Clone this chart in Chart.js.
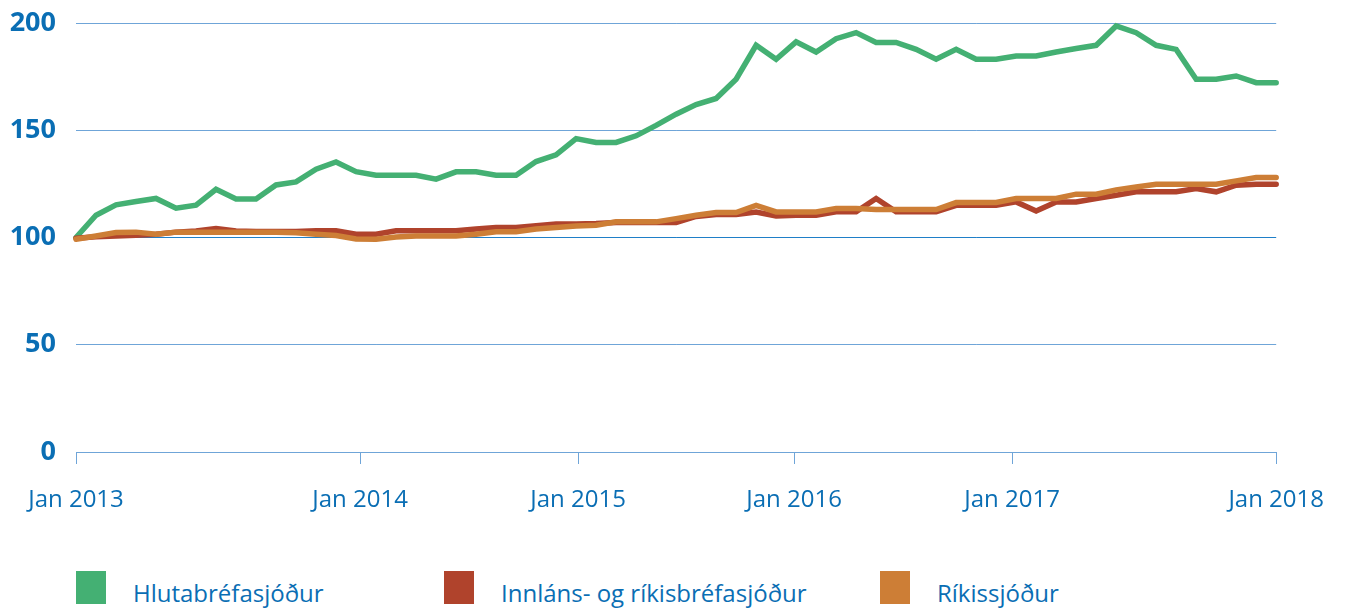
<!DOCTYPE html>
<html>
<head>
<meta charset="utf-8">
<script src="https://cdn.jsdelivr.net/npm/chart.js@4.4.1/dist/chart.umd.min.js"></script>
<style>
  html, body { margin: 0; padding: 0; background: #ffffff; }
  body { width: 1346px; height: 609px; position: relative; overflow: hidden; font-family: "Open Sans", "Noto Sans", sans-serif; }
  #wrap { position: absolute; left: 0; top: 0; width: 1346px; height: 540px; }
  #legend { position: absolute; left: 0; top: 571px; width: 1346px; height: 38px; }
  .item { position: absolute; top: 0; height: 34px; }
  .box { position: absolute; left: 0; top: 0; width: 30px; height: 33px; }
  .lbl { position: absolute; top: 5px; white-space: nowrap; font-size: 24px; line-height: 34px; color: #0a6eb4; }
</style>
</head>
<body>
<div id="wrap"><canvas id="c"></canvas></div>
<div id="legend"></div>
<script>
// ---- data (monthly index, Jan 2013 = 100) ----
const seriesNames = ['Hlutabréfasjóður', 'Innláns- og ríkisbréfasjóður', 'Ríkissjóður'];

const hlutabref = [100,110.4,115.2,116.8,118.2,113.7,115.1,122.5,118,118,124.5,125.9,131.8,135.2,130.7,129,129,129,127.2,130.6,130.6,129,129,135.4,138.5,146.1,144.3,144.3,147.4,152.3,157.5,162,164.8,173.8,189.6,183.1,191.2,186.5,192.7,195.5,190.9,190.9,187.7,183.1,187.7,183.1,183.1,184.6,184.6,186.5,188.1,189.6,198.6,195.5,189.6,187.7,173.8,173.8,175.3,172.2,172.2];

const innlans = [99.7,100.3,100.7,101,101.5,102.5,103,104.2,103,102.8,102.8,102.8,103.1,103.1,101.5,101.5,103.1,103.1,103.1,103.1,104,104.7,104.7,105.5,106.3,106.3,106.5,107,107,107,107,109.8,110.7,110.7,111.9,110,110.4,110.4,112,112,118.2,112,112,112,115,115,115,116.6,112.4,116.6,116.6,118.2,119.7,121.3,121.3,121.3,122.8,121.3,124.4,124.8,124.8];

const rikissjodur = [99.2,100.7,102.3,102.5,101.5,102.5,102.5,102.5,102.5,102.5,102.5,102.2,101.5,100.9,99.3,99.2,100.2,100.7,100.7,100.7,101.5,102.7,102.7,104,104.7,105.4,105.7,107.3,107.3,107.3,108.8,110.4,111.6,111.6,115,111.9,111.9,111.9,113.5,113.5,113,113,113,113,116.3,116.3,116.3,118.2,118.2,118.2,120.2,120.2,122.2,123.5,124.8,124.8,124.8,124.8,126.4,128,128];

// x tick labels and the month index (from Jan 2013) where each label sits
const tickLabels = ['Jan 2013', 'Jan 2014', 'Jan 2015', 'Jan 2016', 'Jan 2017', 'Jan 2018'];
const tickAt = [0, 14.2, 25.1, 35.9, 46.8, 60];

const yTicks = [0, 50, 100, 150, 200];

// ---- styling ----
const colors = ['#44b073', '#b0432c', '#cd7e36'];
const textBlue = '#0a6eb4';
const FONT = '"Open Sans", "Noto Sans", sans-serif';

const toPoints = arr => arr.map((v, i) => ({ x: i, y: v }));
const allSeries = [hlutabref, innlans, rikissjodur];
const drawOrder = [2, 1, 0];

const datasets = allSeries.map((arr, k) => ({
  label: seriesNames[k],
  data: toPoints(arr),
  borderColor: colors[k],
  backgroundColor: colors[k],
  borderWidth: 5.5,
  pointRadius: 0,
  pointHoverRadius: 0,
  tension: 0,
  fill: false,
  clip: false,
  borderCapStyle: 'round',
  borderJoinStyle: 'miter',
  order: drawOrder[k]
}));

new Chart(document.getElementById('c'), {
  type: 'line',
  data: { datasets },
  options: {
    responsive: true,
    maintainAspectRatio: false,
    animation: false,
    events: [],
    layout: { padding: { left: 0, right: 69, top: 23, bottom: 0 } },
    plugins: { legend: { display: false }, tooltip: { enabled: false } },
    scales: {
      x: {
        type: 'linear',
        min: 0,
        max: tickAt[tickAt.length - 1],
        afterBuildTicks: s => { s.ticks = tickAt.map(v => ({ value: v })); },
        afterFit: s => { s.height = 88; },
        border: { display: true, color: '#6fa5d8', width: 1 },
        grid: { drawOnChartArea: false, drawTicks: true, tickLength: 12, color: '#6fa5d8', lineWidth: 1 },
        ticks: {
          autoSkip: false,
          maxRotation: 0,
          padding: 22,
          color: textBlue,
          font: { family: FONT, size: 24, weight: 'normal' },
          callback: (v, i) => tickLabels[i]
        }
      },
      y: {
        min: yTicks[0],
        max: yTicks[yTicks.length - 1],
        afterBuildTicks: s => { s.ticks = yTicks.map(v => ({ value: v })); },
        afterFit: s => { s.width = 76; s.paddingTop = 0; s.paddingBottom = 0; },
        border: { display: false },
        grid: {
          drawTicks: false,
          color: ctx => (ctx.tick && ctx.tick.value === 100) ? '#1f7fc8' : '#6fa5d8',
          lineWidth: 1
        },
        ticks: {
          padding: 20,
          color: textBlue,
          font: { family: FONT, size: 27, weight: 'bold' }
        }
      }
    }
  }
});

// ---- legend (HTML, built from the dataset list) ----
const legendX = [76, 444, 880];
const legend = document.getElementById('legend');
seriesNames.forEach((name, k) => {
  const it = document.createElement('div');
  it.className = 'item';
  it.style.left = legendX[k] + 'px';
  const b = document.createElement('div');
  b.className = 'box';
  b.style.background = colors[k];
  const t = document.createElement('div');
  t.className = 'lbl';
  t.style.left = '57px';
  t.textContent = name;
  it.appendChild(b); it.appendChild(t);
  legend.appendChild(it);
});
</script>
</body>
</html>
